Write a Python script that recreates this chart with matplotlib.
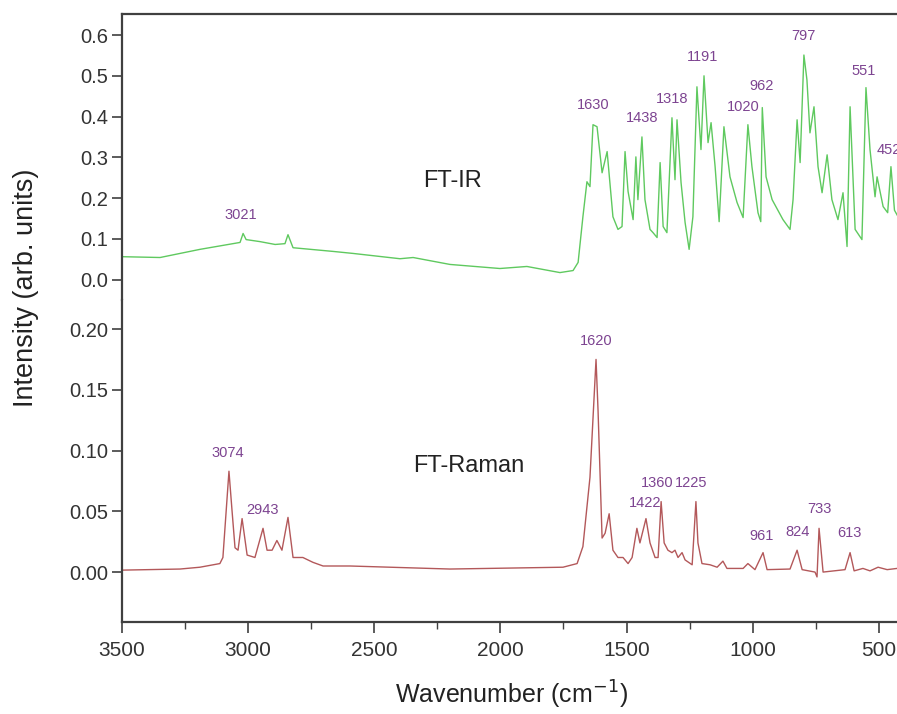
import matplotlib.pyplot as plt
from matplotlib.ticker import MultipleLocator, FormatStrFormatter

plt.rcParams["font.family"] = ["Liberation Sans", "DejaVu Sans"]

# FT-IR spectrum (wavenumber, intensity)
ir_wn = [3500, 3349, 3191, 3032, 3020, 3008, 2953, 2893, 2854, 2842, 2822, 2664, 2584,
         2398, 2346, 2200, 2002, 1895, 1764, 1712, 1692, 1673, 1657, 1645, 1633, 1617,
         1597, 1577, 1554, 1534, 1518, 1506, 1494, 1474, 1463, 1455, 1439, 1427, 1407,
         1395, 1379, 1367, 1355, 1340, 1320, 1308, 1300, 1284, 1268, 1252, 1237, 1221,
         1205, 1193, 1177, 1165, 1149, 1133, 1114, 1090, 1062, 1038, 1019, 1003, 979,
         968, 962, 947, 923, 880, 852, 840, 824, 812, 797, 785, 773, 757, 741, 725, 705,
         686, 662, 642, 626, 614, 594, 567, 551, 535, 515, 507, 483, 465, 452, 438, 420]
ir_int = [0.056, 0.054, 0.074, 0.091, 0.113, 0.098, 0.093, 0.086, 0.088, 0.110, 0.078,
          0.069, 0.064, 0.051, 0.054, 0.037, 0.027, 0.032, 0.017, 0.022, 0.042, 0.154,
          0.240, 0.228, 0.380, 0.375, 0.262, 0.314, 0.154, 0.123, 0.130, 0.314, 0.216,
          0.147, 0.301, 0.196, 0.350, 0.196, 0.123, 0.115, 0.103, 0.287, 0.130, 0.115,
          0.397, 0.245, 0.392, 0.238, 0.140, 0.074, 0.154, 0.473, 0.319, 0.500, 0.336,
          0.385, 0.277, 0.142, 0.375, 0.252, 0.189, 0.152, 0.380, 0.277, 0.164, 0.142,
          0.422, 0.252, 0.196, 0.147, 0.123, 0.196, 0.392, 0.287, 0.551, 0.490, 0.360,
          0.424, 0.277, 0.213, 0.306, 0.196, 0.147, 0.213, 0.081, 0.424, 0.123, 0.098,
          0.471, 0.319, 0.203, 0.252, 0.179, 0.164, 0.277, 0.170, 0.150]

# FT-Raman spectrum
raman_wn = [3500, 3270, 3191, 3112, 3100, 3076, 3064, 3052, 3040, 3024, 3004, 2973, 2941,
            2925, 2905, 2886, 2866, 2842, 2822, 2783, 2743, 2703, 2596, 2200, 1752, 1696,
            1673, 1645, 1621, 1613, 1597, 1585, 1569, 1554, 1534, 1514, 1494, 1478, 1459,
            1447, 1423, 1407, 1387, 1375, 1363, 1351, 1336, 1320, 1308, 1296, 1280, 1268,
            1240, 1225, 1217, 1201, 1169, 1141, 1118, 1102, 1038, 1019, 991, 959, 943, 852,
            824, 804, 753, 745, 737, 721, 634, 614, 598, 563, 535, 503, 467, 428]
raman_int = [0.0016, 0.0025, 0.004, 0.007, 0.012, 0.083, 0.051, 0.020, 0.018, 0.044, 0.014,
             0.012, 0.036, 0.018, 0.018, 0.026, 0.018, 0.045, 0.012, 0.012, 0.008, 0.005,
             0.005, 0.0025, 0.004, 0.007, 0.021, 0.078, 0.175, 0.133, 0.028, 0.032, 0.048,
             0.018, 0.012, 0.012, 0.007, 0.012, 0.036, 0.024, 0.044, 0.024, 0.012, 0.012,
             0.058, 0.024, 0.018, 0.016, 0.018, 0.012, 0.016, 0.010, 0.006, 0.058, 0.024,
             0.007, 0.006, 0.004, 0.009, 0.003, 0.003, 0.007, 0.002, 0.016, 0.002, 0.0025,
             0.018, 0.002, 0.0, -0.004, 0.036, 0.0, 0.002, 0.016, 0.001, 0.003, 0.001,
             0.004, 0.002, 0.003]

# peak labels: (text, x, y)
ir_labels = [("3021", 3028, 0.159), ("1630", 1633, 0.429), ("1438", 1439, 0.397),
             ("1318", 1320, 0.444), ("1191", 1197, 0.547), ("1020", 1038, 0.424),
             ("962", 963, 0.475), ("797", 800, 0.598), ("551", 559, 0.512)]
raman_labels = [("3074", 3080, 0.098), ("2943", 2945, 0.051), ("1620", 1621, 0.190),
                ("1422", 1427, 0.057), ("1360", 1379, 0.073), ("1225", 1244, 0.073),
                ("961", 963, 0.030), ("824", 824, 0.033), ("733", 737, 0.052),
                ("613", 618, 0.032)]

IR_COLOR = "#5fc95f"
RAMAN_COLOR = "#b3585a"
LABEL_COLOR = "#7d4491"
SPINE = "#404040"

fig = plt.figure(figsize=(8.97, 7.14), dpi=100)
ax_ir = fig.add_axes([0.136, 0.580, 0.864, 0.400])
ax_ra = fig.add_axes([0.136, 0.129, 0.864, 0.451], sharex=ax_ir)

ax_ir.plot(ir_wn, ir_int, color=IR_COLOR, lw=1.0)
ax_ra.plot(raman_wn, raman_int, color=RAMAN_COLOR, lw=1.0)

ax_ir.set_xlim(3500, 428)
ax_ir.set_ylim(-0.05, 0.651)
ax_ra.set_ylim(-0.041, 0.224)

for txt, x, y in ir_labels:
    ax_ir.text(x, y, txt, color=LABEL_COLOR, fontsize=10.5, ha="center", va="center")
# this one runs off the right edge in the original
ax_ir.text(507, 0.319, "452", color=LABEL_COLOR, fontsize=10.5, ha="left", va="center",
           clip_on=False)
for txt, x, y in raman_labels:
    ax_ra.text(x, y, txt, color=LABEL_COLOR, fontsize=10.5, ha="center", va="center")

ax_ir.text(2188, 0.243, "FT-IR", fontsize=17, ha="center", va="center", color="#222222")
ax_ra.text(2124, 0.087, "FT-Raman", fontsize=17, ha="center", va="center", color="#222222")

ax_ir.set_yticks([0.0, 0.1, 0.2, 0.3, 0.4, 0.5, 0.6])
ax_ir.yaxis.set_major_formatter(FormatStrFormatter("%.1f"))
ax_ra.set_yticks([0.0, 0.05, 0.10, 0.15, 0.20])
ax_ra.yaxis.set_major_formatter(FormatStrFormatter("%.2f"))
ax_ra.xaxis.set_major_locator(MultipleLocator(500))
ax_ra.xaxis.set_minor_locator(MultipleLocator(250))

for ax in (ax_ir, ax_ra):
    ax.spines["right"].set_visible(False)
    for s in ax.spines.values():
        s.set_color(SPINE)
        s.set_linewidth(1.6)
    ax.tick_params(axis="y", direction="out", length=7, width=1.2, color=SPINE,
                   labelsize=14.5, labelcolor="#333333", pad=3)
ax_ir.spines["bottom"].set_visible(False)
ax_ra.spines["top"].set_visible(False)
ax_ir.tick_params(axis="x", bottom=False, labelbottom=False)
ax_ra.tick_params(axis="x", which="major", direction="out", length=8, width=1.2,
                  color=SPINE, labelsize=15, labelcolor="#333333", pad=6)
ax_ra.tick_params(axis="x", which="minor", direction="out", length=5, width=1.0,
                  color=SPINE)

fig.text(0.029, 0.597, "Intensity (arb. units)", rotation=90, fontsize=19.5,
         ha="center", va="center", color="#222222")
fig.text(0.57, 0.027, "Wavenumber (cm$^{-1}$)", fontsize=18, ha="center",
         va="center", color="#222222")

fig.savefig("out.png", dpi=100)
